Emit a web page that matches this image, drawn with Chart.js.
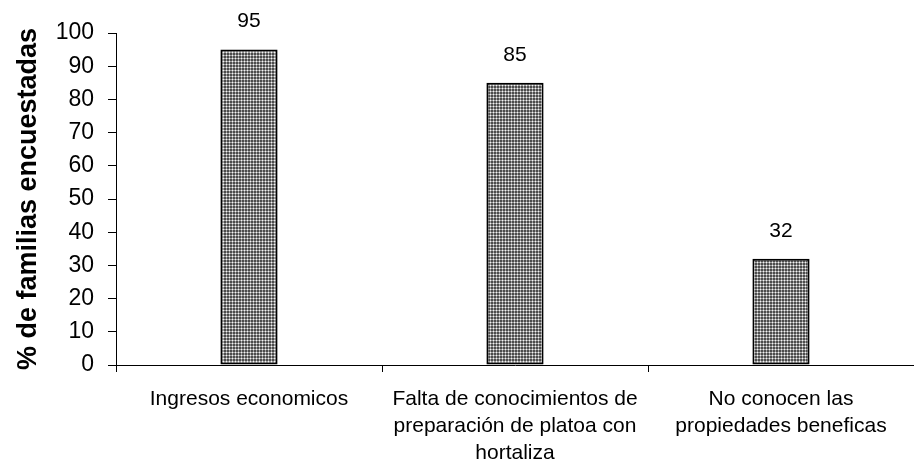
<!DOCTYPE html>
<html>
<head>
<meta charset="utf-8">
<script src="https://cdn.jsdelivr.net/npm/chart.js@4"></script>
<style>
  html, body { margin: 0; padding: 0; background: #fff; }
  #wrap { width: 914px; height: 469px; }
</style>
</head>
<body>
<div id="wrap"><canvas id="c" width="914" height="469"></canvas></div>
<script>
const categories = [
  ["Ingresos economicos"],
  ["Falta de conocimientos de", "preparación de platoa con", "hortaliza"],
  ["No conocen las", "propiedades beneficas"]
];
const percentages = [95, 85, 32];
const yTicks = [0, 10, 20, 30, 40, 50, 60, 70, 80, 90, 100];

const FONT = '"Liberation Sans", Arial, sans-serif';

// Dotted gray fill for the bars
function dotPattern() {
  const t = document.createElement('canvas');
  t.width = 3; t.height = 3;
  const g = t.getContext('2d');
  g.fillStyle = '#4c4c4c';
  g.fillRect(0, 0, 3, 3);
  g.fillStyle = '#a0a0a0';
  g.fillRect(1, 0, 1, 3);
  g.fillRect(0, 1, 3, 1);
  g.fillStyle = '#f4f4f4';
  g.fillRect(1, 1, 1, 1);
  return g.createPattern(t, 'repeat');
}

// Value labels above each bar
const valueLabels = {
  id: 'valueLabels',
  afterDatasetsDraw(chart) {
    const ctx = chart.ctx;
    const meta = chart.getDatasetMeta(0);
    ctx.save();
    ctx.font = '21px ' + FONT;
    ctx.fillStyle = '#000';
    ctx.textAlign = 'center';
    ctx.textBaseline = 'middle';
    meta.data.forEach((bar, i) => {
      ctx.fillText(String(percentages[i]), bar.x, bar.y - 28);
    });
    ctx.restore();
  }
};

new Chart(document.getElementById('c'), {
  type: 'bar',
  data: {
    labels: categories,
    datasets: [{
      data: percentages,
      backgroundColor: dotPattern(),
      borderColor: '#000',
      borderWidth: 2,
      borderSkipped: false,
      barPercentage: 0.215,
      categoryPercentage: 1.0
    }]
  },
  options: {
    responsive: false,
    animation: false,
    devicePixelRatio: 1,
    layout: { padding: { top: 33, right: 0, left: 12, bottom: 0 } },
    plugins: { legend: { display: false }, tooltip: { enabled: false } },
    scales: {
      x: {
        offset: true,
        grid: { display: true, offset: true, drawOnChartArea: false, drawTicks: true, tickLength: 7, color: '#000', lineWidth: 1 },
        border: { display: true, color: '#000', width: 1 },
        ticks: {
          color: '#000',
          font: { family: FONT, size: 21, lineHeight: 1.28 },
          maxRotation: 0,
          autoSkip: false,
          padding: 14
        },
        afterFit(scale) { scale.height = 104; }
      },
      y: {
        min: 0,
        max: 100,
        afterBuildTicks(scale) { scale.ticks = yTicks.map(v => ({ value: v })); },
        grid: { display: true, drawOnChartArea: false, drawTicks: true, tickLength: 8, color: '#000', lineWidth: 1 },
        border: { display: true, color: '#000', width: 1 },
        ticks: {
          color: '#000',
          font: { family: FONT, size: 23 },
          padding: 14
        },
        title: {
          display: true,
          text: '% de familias encuestadas',
          color: '#000',
          font: { family: FONT, size: 27, weight: 'bold' },
          padding: { top: 0, bottom: 0 }
        },
        afterFit(scale) { scale.width = 104; }
      }
    }
  },
  plugins: [valueLabels]
});
</script>
</body>
</html>
